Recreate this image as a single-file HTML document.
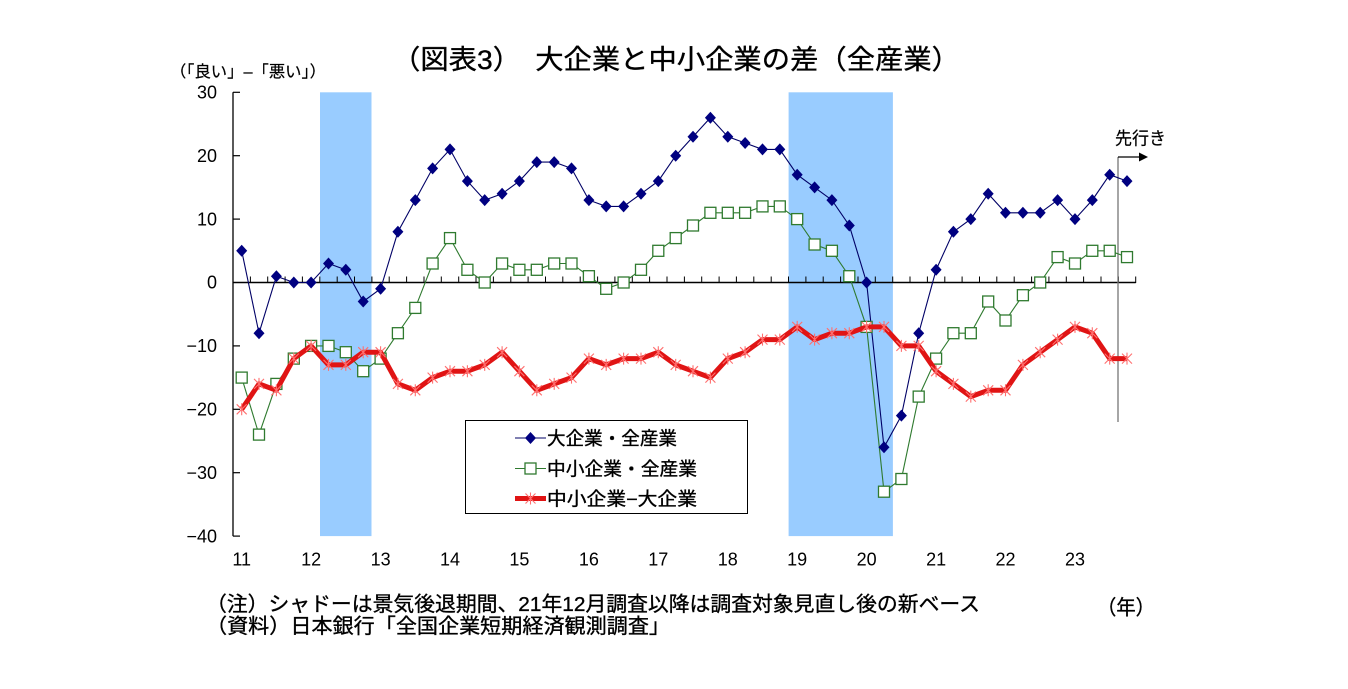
<!DOCTYPE html>
<html><head><meta charset="utf-8"><style>
html,body{margin:0;padding:0;background:#fff;}
svg{display:block;}
text{font-family:"Liberation Sans","Noto Sans CJK JP",sans-serif;fill:#000;}
.cj{stroke:#000;stroke-width:0.35;}
</style></head><body>
<svg width="1348" height="689" viewBox="0 0 1348 689" xmlns="http://www.w3.org/2000/svg">
<defs>
<path id="dm" d="M0,-6 L5.5,0 L0,6 L-5.5,0 Z" fill="#000080" stroke="none"/>
<rect id="sq" x="-5.5" y="-5.5" width="11" height="11" fill="#fff" stroke="#2f7a2f" stroke-width="1.3"/>
<g id="as" stroke="#ff6f6f" stroke-width="1.1" fill="none"><path d="M-5,-5 L5,5 M-5,5 L5,-5 M0,-6 L0,6"/></g>
</defs>
<rect width="1348" height="689" fill="#fff"/>

<!-- title -->
<text class="cj" x="392" y="69" font-size="27" textLength="568" lengthAdjust="spacingAndGlyphs">（図表3）　大企業と中小企業の差（全産業）</text>
<text class="cj" x="170" y="77" font-size="16" textLength="156" lengthAdjust="spacingAndGlyphs" style="stroke-width:0.2">（「良い」–「悪い」）</text>

<!-- shading -->
<rect x="320" y="92.3" width="51.5" height="443.8" fill="#99ccff"/>
<rect x="788.6" y="92.3" width="104.3" height="443.8" fill="#99ccff"/>

<!-- y axis -->
<line x1="233" y1="92.3" x2="233" y2="536.1" stroke="#000" stroke-width="1.3"/>
<g stroke="#000" stroke-width="1.2">
<line x1="233" y1="92.3" x2="240" y2="92.3"/>
<line x1="233" y1="155.7" x2="240" y2="155.7"/>
<line x1="233" y1="219.1" x2="240" y2="219.1"/>
<line x1="233" y1="345.9" x2="240" y2="345.9"/>
<line x1="233" y1="409.3" x2="240" y2="409.3"/>
<line x1="233" y1="472.7" x2="240" y2="472.7"/>
<line x1="233" y1="536.1" x2="240" y2="536.1"/>
</g>
<g font-size="18" text-anchor="end">
<text x="217" y="98.5">30</text>
<text x="217" y="161.9">20</text>
<text x="217" y="225.3">10</text>
<text x="217" y="288.7">0</text>
<text x="217" y="352.1">−10</text>
<text x="217" y="415.5">−20</text>
<text x="217" y="478.9">−30</text>
<text x="217" y="542.3">−40</text>
</g>

<!-- zero line with ticks -->
<line x1="233" y1="282.5" x2="1135.7" y2="282.5" stroke="#000" stroke-width="1.5"/>
<path stroke="#000" stroke-width="1" fill="none" d="M250.4,276.5V283 M267.7,276.5V283 M285.1,276.5V283 M302.4,276.5V283 M319.8,276.5V283 M337.2,276.5V283 M354.5,276.5V283 M371.9,276.5V283 M389.2,276.5V283 M406.6,276.5V283 M424,276.5V283 M441.3,276.5V283 M458.7,276.5V283 M476,276.5V283 M493.4,276.5V283 M510.8,276.5V283 M528.1,276.5V283 M545.5,276.5V283 M562.8,276.5V283 M580.2,276.5V283 M597.6,276.5V283 M614.9,276.5V283 M632.3,276.5V283 M649.6,276.5V283 M667,276.5V283 M684.4,276.5V283 M701.7,276.5V283 M719.1,276.5V283 M736.4,276.5V283 M753.8,276.5V283 M771.2,276.5V283 M788.5,276.5V283 M805.9,276.5V283 M823.2,276.5V283 M840.6,276.5V283 M858,276.5V283 M875.3,276.5V283 M892.7,276.5V283 M910,276.5V283 M927.4,276.5V283 M944.8,276.5V283 M962.1,276.5V283 M979.5,276.5V283 M996.8,276.5V283 M1014.2,276.5V283 M1031.6,276.5V283 M1048.9,276.5V283 M1066.3,276.5V283 M1083.6,276.5V283 M1101,276.5V283 M1118.4,276.5V283 M1135.7,276.5V283"/>

<!-- x labels -->
<g font-size="18" text-anchor="middle">
<text x="241.7" y="565.5">11</text>
<text x="311.1" y="565.5">12</text>
<text x="380.6" y="565.5">13</text>
<text x="450.0" y="565.5">14</text>
<text x="519.4" y="565.5">15</text>
<text x="588.9" y="565.5">16</text>
<text x="658.3" y="565.5">17</text>
<text x="727.8" y="565.5">18</text>
<text x="797.2" y="565.5">19</text>
<text x="866.6" y="565.5">20</text>
<text x="936.1" y="565.5">21</text>
<text x="1005.5" y="565.5">22</text>
<text x="1075.0" y="565.5">23</text>
</g>

<!-- forecast marker -->
<line x1="1118" y1="157" x2="1118" y2="422" stroke="#777" stroke-width="1.3"/>
<line x1="1118" y1="157" x2="1140" y2="157" stroke="#000" stroke-width="1.3"/>
<path d="M1139,152.5 L1148,157 L1139,161.5 Z" fill="#000"/>
<text class="cj" x="1115" y="144.5" font-size="17.5" textLength="51" lengthAdjust="spacingAndGlyphs" style="stroke-width:0.2">先行き</text>

<!-- blue series -->
<polyline fill="none" stroke="#000066" stroke-width="1.1" points="241.7,250.8 259.0,333.2 276.4,276.2 293.8,282.5 311.1,282.5 328.5,263.5 345.8,269.8 363.2,301.5 380.6,288.8 397.9,231.8 415.3,200.1 432.6,168.4 450.0,149.4 467.4,181.1 484.7,200.1 502.1,193.8 519.4,181.1 536.8,162.1 554.2,162.1 571.5,168.4 588.9,200.1 606.2,206.4 623.6,206.4 641.0,193.8 658.3,181.1 675.7,155.7 693.0,136.7 710.4,117.7 727.8,136.7 745.1,143.0 762.5,149.4 779.8,149.4 797.2,174.7 814.6,187.4 831.9,200.1 849.3,225.5 866.6,282.5 884.0,447.3 901.4,415.6 918.7,333.2 936.1,269.8 953.4,231.8 970.8,219.1 988.2,193.8 1005.5,212.8 1022.9,212.8 1040.2,212.8 1057.6,200.1 1075.0,219.1 1092.3,200.1 1109.7,174.7 1127.0,181.1"/>

<!-- green series -->
<polyline fill="none" stroke="#2f7a2f" stroke-width="1.1" points="241.7,377.6 259.0,434.6 276.4,383.9 293.8,358.6 311.1,345.9 328.5,345.9 345.8,352.2 363.2,371.2 380.6,358.6 397.9,333.2 415.3,307.9 432.6,263.5 450.0,238.1 467.4,269.8 484.7,282.5 502.1,263.5 519.4,269.8 536.8,269.8 554.2,263.5 571.5,263.5 588.9,276.2 606.2,288.8 623.6,282.5 641.0,269.8 658.3,250.8 675.7,238.1 693.0,225.5 710.4,212.8 727.8,212.8 745.1,212.8 762.5,206.4 779.8,206.4 797.2,219.1 814.6,244.5 831.9,250.8 849.3,276.2 866.6,326.9 884.0,491.7 901.4,479.0 918.7,396.6 936.1,358.6 953.4,333.2 970.8,333.2 988.2,301.5 1005.5,320.5 1022.9,295.2 1040.2,282.5 1057.6,257.1 1075.0,263.5 1092.3,250.8 1109.7,250.8 1127.0,257.1"/>

<!-- blue markers -->
<g>
<use href="#dm" x="241.7" y="250.8"/><use href="#dm" x="259.0" y="333.2"/><use href="#dm" x="276.4" y="276.2"/><use href="#dm" x="293.8" y="282.5"/><use href="#dm" x="311.1" y="282.5"/><use href="#dm" x="328.5" y="263.5"/><use href="#dm" x="345.8" y="269.8"/><use href="#dm" x="363.2" y="301.5"/><use href="#dm" x="380.6" y="288.8"/><use href="#dm" x="397.9" y="231.8"/><use href="#dm" x="415.3" y="200.1"/><use href="#dm" x="432.6" y="168.4"/><use href="#dm" x="450.0" y="149.4"/><use href="#dm" x="467.4" y="181.1"/><use href="#dm" x="484.7" y="200.1"/><use href="#dm" x="502.1" y="193.8"/><use href="#dm" x="519.4" y="181.1"/><use href="#dm" x="536.8" y="162.1"/><use href="#dm" x="554.2" y="162.1"/><use href="#dm" x="571.5" y="168.4"/><use href="#dm" x="588.9" y="200.1"/><use href="#dm" x="606.2" y="206.4"/><use href="#dm" x="623.6" y="206.4"/><use href="#dm" x="641.0" y="193.8"/><use href="#dm" x="658.3" y="181.1"/><use href="#dm" x="675.7" y="155.7"/><use href="#dm" x="693.0" y="136.7"/><use href="#dm" x="710.4" y="117.7"/><use href="#dm" x="727.8" y="136.7"/><use href="#dm" x="745.1" y="143.0"/><use href="#dm" x="762.5" y="149.4"/><use href="#dm" x="779.8" y="149.4"/><use href="#dm" x="797.2" y="174.7"/><use href="#dm" x="814.6" y="187.4"/><use href="#dm" x="831.9" y="200.1"/><use href="#dm" x="849.3" y="225.5"/><use href="#dm" x="866.6" y="282.5"/><use href="#dm" x="884.0" y="447.3"/><use href="#dm" x="901.4" y="415.6"/><use href="#dm" x="918.7" y="333.2"/><use href="#dm" x="936.1" y="269.8"/><use href="#dm" x="953.4" y="231.8"/><use href="#dm" x="970.8" y="219.1"/><use href="#dm" x="988.2" y="193.8"/><use href="#dm" x="1005.5" y="212.8"/><use href="#dm" x="1022.9" y="212.8"/><use href="#dm" x="1040.2" y="212.8"/><use href="#dm" x="1057.6" y="200.1"/><use href="#dm" x="1075.0" y="219.1"/><use href="#dm" x="1092.3" y="200.1"/><use href="#dm" x="1109.7" y="174.7"/><use href="#dm" x="1127.0" y="181.1"/>
</g>

<!-- green markers -->
<g>
<use href="#sq" x="241.7" y="377.6"/><use href="#sq" x="259.0" y="434.6"/><use href="#sq" x="276.4" y="383.9"/><use href="#sq" x="293.8" y="358.6"/><use href="#sq" x="311.1" y="345.9"/><use href="#sq" x="328.5" y="345.9"/><use href="#sq" x="345.8" y="352.2"/><use href="#sq" x="363.2" y="371.2"/><use href="#sq" x="380.6" y="358.6"/><use href="#sq" x="397.9" y="333.2"/><use href="#sq" x="415.3" y="307.9"/><use href="#sq" x="432.6" y="263.5"/><use href="#sq" x="450.0" y="238.1"/><use href="#sq" x="467.4" y="269.8"/><use href="#sq" x="484.7" y="282.5"/><use href="#sq" x="502.1" y="263.5"/><use href="#sq" x="519.4" y="269.8"/><use href="#sq" x="536.8" y="269.8"/><use href="#sq" x="554.2" y="263.5"/><use href="#sq" x="571.5" y="263.5"/><use href="#sq" x="588.9" y="276.2"/><use href="#sq" x="606.2" y="288.8"/><use href="#sq" x="623.6" y="282.5"/><use href="#sq" x="641.0" y="269.8"/><use href="#sq" x="658.3" y="250.8"/><use href="#sq" x="675.7" y="238.1"/><use href="#sq" x="693.0" y="225.5"/><use href="#sq" x="710.4" y="212.8"/><use href="#sq" x="727.8" y="212.8"/><use href="#sq" x="745.1" y="212.8"/><use href="#sq" x="762.5" y="206.4"/><use href="#sq" x="779.8" y="206.4"/><use href="#sq" x="797.2" y="219.1"/><use href="#sq" x="814.6" y="244.5"/><use href="#sq" x="831.9" y="250.8"/><use href="#sq" x="849.3" y="276.2"/><use href="#sq" x="866.6" y="326.9"/><use href="#sq" x="884.0" y="491.7"/><use href="#sq" x="901.4" y="479.0"/><use href="#sq" x="918.7" y="396.6"/><use href="#sq" x="936.1" y="358.6"/><use href="#sq" x="953.4" y="333.2"/><use href="#sq" x="970.8" y="333.2"/><use href="#sq" x="988.2" y="301.5"/><use href="#sq" x="1005.5" y="320.5"/><use href="#sq" x="1022.9" y="295.2"/><use href="#sq" x="1040.2" y="282.5"/><use href="#sq" x="1057.6" y="257.1"/><use href="#sq" x="1075.0" y="263.5"/><use href="#sq" x="1092.3" y="250.8"/><use href="#sq" x="1109.7" y="250.8"/><use href="#sq" x="1127.0" y="257.1"/>
</g>

<!-- red series -->
<polyline fill="none" stroke="#e01414" stroke-width="5" stroke-linejoin="round" points="241.7,409.3 259.0,383.9 276.4,390.3 293.8,358.6 311.1,345.9 328.5,364.9 345.8,364.9 363.2,352.2 380.6,352.2 397.9,383.9 415.3,390.3 432.6,377.6 450.0,371.2 467.4,371.2 484.7,364.9 502.1,352.2 519.4,371.2 536.8,390.3 554.2,383.9 571.5,377.6 588.9,358.6 606.2,364.9 623.6,358.6 641.0,358.6 658.3,352.2 675.7,364.9 693.0,371.2 710.4,377.6 727.8,358.6 745.1,352.2 762.5,339.6 779.8,339.6 797.2,326.9 814.6,339.6 831.9,333.2 849.3,333.2 866.6,326.9 884.0,326.9 901.4,345.9 918.7,345.9 936.1,371.2 953.4,383.9 970.8,396.6 988.2,390.3 1005.5,390.3 1022.9,364.9 1040.2,352.2 1057.6,339.6 1075.0,326.9 1092.3,333.2 1109.7,358.6 1127.0,358.6"/>
<g>
<use href="#as" x="241.7" y="409.3"/><use href="#as" x="259.0" y="383.9"/><use href="#as" x="276.4" y="390.3"/><use href="#as" x="293.8" y="358.6"/><use href="#as" x="311.1" y="345.9"/><use href="#as" x="328.5" y="364.9"/><use href="#as" x="345.8" y="364.9"/><use href="#as" x="363.2" y="352.2"/><use href="#as" x="380.6" y="352.2"/><use href="#as" x="397.9" y="383.9"/><use href="#as" x="415.3" y="390.3"/><use href="#as" x="432.6" y="377.6"/><use href="#as" x="450.0" y="371.2"/><use href="#as" x="467.4" y="371.2"/><use href="#as" x="484.7" y="364.9"/><use href="#as" x="502.1" y="352.2"/><use href="#as" x="519.4" y="371.2"/><use href="#as" x="536.8" y="390.3"/><use href="#as" x="554.2" y="383.9"/><use href="#as" x="571.5" y="377.6"/><use href="#as" x="588.9" y="358.6"/><use href="#as" x="606.2" y="364.9"/><use href="#as" x="623.6" y="358.6"/><use href="#as" x="641.0" y="358.6"/><use href="#as" x="658.3" y="352.2"/><use href="#as" x="675.7" y="364.9"/><use href="#as" x="693.0" y="371.2"/><use href="#as" x="710.4" y="377.6"/><use href="#as" x="727.8" y="358.6"/><use href="#as" x="745.1" y="352.2"/><use href="#as" x="762.5" y="339.6"/><use href="#as" x="779.8" y="339.6"/><use href="#as" x="797.2" y="326.9"/><use href="#as" x="814.6" y="339.6"/><use href="#as" x="831.9" y="333.2"/><use href="#as" x="849.3" y="333.2"/><use href="#as" x="866.6" y="326.9"/><use href="#as" x="884.0" y="326.9"/><use href="#as" x="901.4" y="345.9"/><use href="#as" x="918.7" y="345.9"/><use href="#as" x="936.1" y="371.2"/><use href="#as" x="953.4" y="383.9"/><use href="#as" x="970.8" y="396.6"/><use href="#as" x="988.2" y="390.3"/><use href="#as" x="1005.5" y="390.3"/><use href="#as" x="1022.9" y="364.9"/><use href="#as" x="1040.2" y="352.2"/><use href="#as" x="1057.6" y="339.6"/><use href="#as" x="1075.0" y="326.9"/><use href="#as" x="1092.3" y="333.2"/><use href="#as" x="1109.7" y="358.6"/><use href="#as" x="1127.0" y="358.6"/>
</g>

<!-- legend -->
<rect x="465.5" y="420.5" width="282" height="93" fill="#fff" stroke="#000" stroke-width="1"/>
<line x1="515" y1="438" x2="546" y2="438" stroke="#000066" stroke-width="1.1"/>
<use href="#dm" x="530.5" y="438"/>
<line x1="515" y1="468.5" x2="546" y2="468.5" stroke="#2f7a2f" stroke-width="1.1"/>
<use href="#sq" x="530.5" y="468.5"/>
<line x1="515" y1="498.5" x2="546" y2="498.5" stroke="#e01414" stroke-width="5"/>
<use href="#as" x="530.5" y="498.5"/>
<g font-size="18.5" class="cj">
<text x="547" y="445" textLength="130" lengthAdjust="spacingAndGlyphs">大企業・全産業</text>
<text x="547" y="475.5" textLength="150" lengthAdjust="spacingAndGlyphs">中小企業・全産業</text>
<text x="547" y="505.5" textLength="150" lengthAdjust="spacingAndGlyphs">中小企業−大企業</text>
</g>

<!-- notes -->
<text class="cj" x="206" y="611" font-size="20.5" textLength="774" lengthAdjust="spacingAndGlyphs">（注）シャドーは景気後退期間、21年12月調査以降は調査対象見直し後の新ベース</text>
<text class="cj" x="206" y="633" font-size="20.5" textLength="464" lengthAdjust="spacingAndGlyphs">（資料）日本銀行「全国企業短期経済観測調査」</text>
<text class="cj" x="1097" y="614.5" font-size="20.5" textLength="58" lengthAdjust="spacingAndGlyphs">（年）</text>
</svg>
</body></html>
